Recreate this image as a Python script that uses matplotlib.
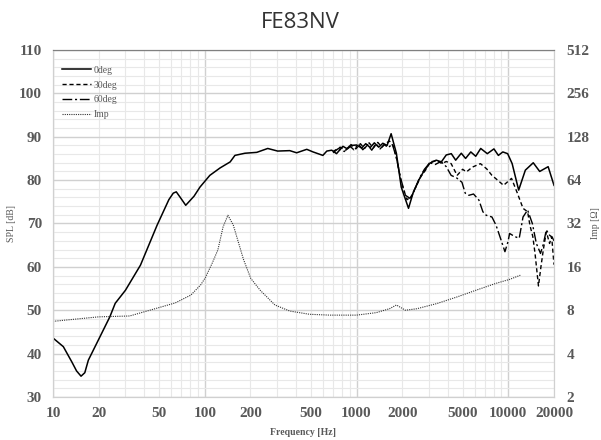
import numpy as np
import matplotlib
matplotlib.use('Agg')
import matplotlib.pyplot as plt
from matplotlib.ticker import FixedLocator, MultipleLocator, NullFormatter

# on-axis response
f_0deg = [10, 11.7, 13.3, 14.3, 15.3, 16.2, 17.1, 20.4, 23.7, 25.7, 30, 37.7, 48.5, 58, 62, 64.9, 69, 74.9,
          85, 93, 108, 126, 147, 158, 184, 220, 260, 302, 363, 403, 470, 517, 600, 637, 686, 738, 813,
          870, 930, 1000, 1080, 1150, 1230, 1310, 1400, 1490, 1590, 1690, 1830, 1970, 2200, 2370, 2570,
          2760, 3040, 3350, 3620, 3900, 4210, 4500, 4900, 5230, 5660, 6100, 6580, 7270, 8040, 8600,
          9200, 9900, 10600, 11700, 12950, 14600, 16100, 18300, 20000]
spl_0deg = [43.6, 41.6, 38.1, 36.0, 34.8, 35.6, 38.5, 43.9, 48.5, 51.6, 54.6, 60.4, 69.6, 75.5, 77.0,
            77.3, 76.0, 74.2, 76.3, 78.4, 81.1, 82.8, 84.2, 85.7, 86.2, 86.4, 87.3, 86.7, 86.8, 86.3,
            87.1, 86.5, 85.7, 86.7, 86.9, 86.1, 87.8, 87.2, 88.0, 88.1, 87.4, 88.4, 87.5, 88.6, 87.6,
            88.5, 88.0, 90.7, 86.2, 78.4, 73.5, 77.3, 80.0, 81.9, 83.9, 84.6, 84.2, 85.8, 86.1, 84.6,
            86.2, 85.0, 86.5, 85.5, 87.3, 86.1, 87.2, 85.7, 86.5, 86.1, 83.8, 77.7, 82.3, 84.0, 82.0,
            83.1, 78.8]

f_30deg = [700, 780, 850, 920, 990, 1060, 1130, 1210, 1290, 1380, 1470, 1560, 1650, 1750, 1850, 1970,
           2150, 2300, 2450, 2650, 2850, 3040, 3400, 3650, 3900, 4200, 4600, 5000, 5300, 5800, 6550,
           7200, 7800, 8500, 9300, 10500, 11500, 12500, 13400, 13900, 14500, 15000, 15800, 16400,
           17000, 17800, 18700, 19300, 20000]
spl_30deg = [86.6, 87.6, 86.9, 88.2, 87.2, 88.4, 87.3, 88.6, 87.4, 88.7, 87.6, 88.5, 89.0, 87.8, 84.5,
             79.5, 75.5, 76.2, 78.3, 80.8, 82.3, 84.2, 84.5, 83.8, 84.3, 83.8, 81.1, 82.5, 81.9, 83.0,
             83.8, 82.6, 81.1, 80.0, 78.8, 80.4, 76.9, 73.5, 72.7, 69.5, 67.0, 63.1, 55.6, 60.0, 63.9,
             68.1, 65.4, 67.0, 60.5]

f_60deg = [700, 760, 830, 900, 960, 1030, 1100, 1180, 1260, 1340, 1430, 1520, 1620, 1720, 1820, 1950,
           2100, 2250, 2400, 2600, 2800, 3040, 3300, 3600, 3900, 4200, 4570, 4950, 5200, 5500, 5900,
           6400, 6800, 7150, 7800, 8300, 8800, 9500, 9950, 10200, 11000, 11800, 12500, 13400, 14400,
           15300, 16300, 17000, 17800, 18700, 19500, 20000]
spl_60deg = [86.3, 87.3, 86.6, 87.9, 87.0, 88.3, 87.0, 88.2, 86.9, 88.4, 87.2, 88.2, 87.5, 88.3, 85.5,
             80.5, 76.5, 75.8, 77.5, 80.5, 82.5, 84.0, 83.6, 84.3, 83.1, 81.1, 80.5, 79.5, 77.0, 76.5,
             76.8, 75.4, 72.7, 71.9, 71.5, 69.6, 67.0, 63.5, 65.8, 67.7, 67.0, 66.6, 71.5, 73.1, 70.0,
             65.4, 63.1, 65.2, 68.5, 67.3, 66.8, 66.0]

# impedance
f_imp = [10, 20, 32, 49, 64, 81, 94, 101, 112, 122, 132, 142, 154, 165, 180, 201, 232, 290, 363, 490,
         665, 1000, 1350, 1650, 1830, 2100, 2500, 3380, 4600, 6100, 8300, 10200, 12000]
imp = [6.7, 7.2, 7.3, 8.3, 9.0, 10.2, 12.0, 13.5, 17.0, 21.0, 30.3, 36.5, 31.3, 24.5, 18.0, 13.3, 11.0,
       8.7, 7.9, 7.5, 7.4, 7.4, 7.7, 8.2, 8.7, 8.0, 8.2, 8.9, 9.9, 11.0, 12.3, 13.1, 14.0]

x_ticks = [10, 20, 50, 100, 200, 500, 1000, 2000, 5000, 10000, 20000]
spl_ticks = [30, 40, 50, 60, 70, 80, 90, 100, 110]
imp_ticks = [2, 4, 8, 16, 32, 64, 128, 256, 512]

serif = 'Liberation Serif'
tcol = '#595959'
tsize = 11

fig = plt.figure(figsize=(6.01, 4.40), dpi=100)
ax = fig.add_axes([53/601, 1-397/440, 501/601, 347/440])
ax2 = ax.twinx()

ax.set_xscale('log')
ax.set_xlim(10, 20000)
ax.set_ylim(30, 110)

ax.xaxis.set_major_locator(FixedLocator([10, 100, 1000, 10000]))
minors = [m*d for d in [10, 100, 1000, 10000] for m in range(2, 10) if m*d <= 20000]
ax.xaxis.set_minor_locator(FixedLocator(minors))
ax.xaxis.set_minor_formatter(NullFormatter())
ax.yaxis.set_major_locator(FixedLocator(spl_ticks))
ax.yaxis.set_minor_locator(MultipleLocator(2))

ax.grid(True, which='major', color='#d0d0d0', lw=1.0)
ax.grid(True, which='minor', color='#e8e8e8', lw=0.8)
ax.set_axisbelow(True)

# x tick labels placed at the chosen freqs
ax.set_xticks([10, 100, 1000, 10000])
ax.set_xticklabels([])
for xt in x_ticks:
    ax.text(xt, -0.03, str(xt), transform=ax.get_xaxis_transform(), ha='center', va='top',
            fontsize=tsize, fontweight='bold', color=tcol, family=serif)

ax.set_yticks(spl_ticks)
ax.set_yticklabels([str(v) for v in spl_ticks], fontsize=tsize, fontweight='bold', color=tcol, family=serif)
ax.tick_params(which='both', length=0)
ax.tick_params(axis='y', pad=8)

ax.plot(f_0deg, spl_0deg, color='black', lw=1.1, ls='-', label='0deg')
ax.plot(f_30deg, spl_30deg, color='black', lw=1.0, ls=(0, (3, 2)), label='30deg')
ax.plot(f_60deg, spl_60deg, color='black', lw=1.0, ls=(0, (7, 2, 1.5, 2)), label='60deg')
imp_line, = ax2.plot(f_imp, imp, color='#333333', lw=0.8, ls=(0, (1, 1)), label='Imp')

ax2.set_yscale('log', base=2)
ax2.set_ylim(2, 512)
ax2.set_yticks(imp_ticks)
ax2.set_yticklabels([str(v) for v in imp_ticks], fontsize=tsize, fontweight='bold', color=tcol, family=serif)
ax2.yaxis.set_minor_locator(FixedLocator([]))
ax2.tick_params(which='both', length=0, pad=9)

for a in (ax, ax2):
    for s in a.spines.values():
        s.set_color('#d0d0d0')
ax.spines['top'].set_color('#808080')
ax2.spines['top'].set_color('#808080')

ymid = 1 - 223/440
fig.text(12/601, ymid, 'SPL [dB]', rotation=90, ha='center', va='center', fontsize=7,
         color=tcol, family=serif)
fig.text(595/601, ymid, 'Imp [Ω]', rotation=90, ha='center', va='center', fontsize=7,
         color=tcol, family=serif)
fig.text(303/601, 1 - 432/440, 'Frequency [Hz]', ha='center', va='center', fontsize=7,
         fontweight='bold', color=tcol, family=serif)

handles = ax.get_lines()[:3] + [imp_line]
leg = ax.legend(handles, ['0deg', '30deg', '60deg', 'Imp'], loc='upper left', frameon=False,
                prop={'family': serif, 'size': 7}, handlelength=3.0, handletextpad=0.3,
                labelspacing=0.6, bbox_to_anchor=(0.0, 0.98))
for t in leg.get_texts():
    t.set_color(tcol)

fig.text(0.5, 1-22/440, 'FE83NV', ha='center', va='center', fontsize=16, color='#333333',
         family='Open Sans')

fig.savefig('out.png', dpi=100)
